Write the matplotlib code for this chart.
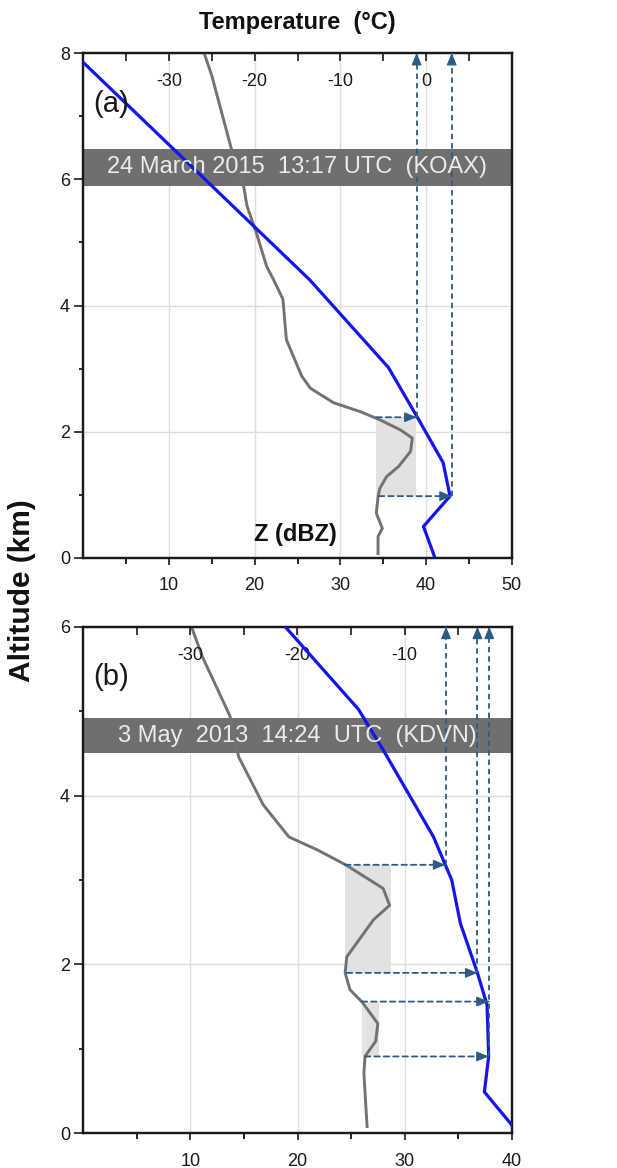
import matplotlib
matplotlib.use('Agg')
import matplotlib.pyplot as plt
from matplotlib import font_manager as fm
from matplotlib.transforms import blended_transform_factory

# ---------------- data ----------------
# Panel (a): 24 March 2015 (KOAX)
a_temp_T = [-40.0, -13.6, -4.4, -1.1, 2.0, 2.8, -0.3, 1.05]
a_temp_h = [7.85, 4.41, 3.02, 2.25, 1.51, 0.98, 0.5, 0.0]
a_z_dbz = [14.1, 15.0, 17.5, 18.7, 19.1, 20.2, 21.4, 22.2, 23.3, 23.7, 24.5, 25.5,
           26.5, 29.2, 32.3, 34.6, 37.0, 38.4, 38.2, 36.8, 35.4, 34.6, 34.4, 34.2,
           34.9, 34.4, 34.4]
a_z_h = [8.0, 7.64, 6.37, 5.9, 5.58, 5.15, 4.62, 4.41, 4.10, 3.46, 3.2, 2.88,
         2.69, 2.46, 2.32, 2.19, 2.03, 1.9, 1.69, 1.45, 1.29, 1.1, 0.97, 0.71,
         0.47, 0.34, 0.07]
a_shade_zlo = [34.2]
a_shade_zhi = [38.8]
a_shade_hlo = [0.98]
a_shade_hhi = [2.23]
a_arrow_h = [2.23, 0.98]
a_arrow_zstart = [34.2, 34.5]
a_arrow_tend = [-1.1, 3.0]
a_vert_t = [-1.1, 3.0]
a_vert_h = [2.23, 0.98]
a_band = (5.9, 6.48)
a_title = "24 March 2015  13:17 UTC  (KOAX)"

# Panel (b): 3 May 2013 (KDVN)
b_temp_T = [-21.15, -14.3, -12.0, -7.3, -6.2, -5.6, -4.8, -3.2, -2.3, -2.15, -2.55, 0.0, 0.3]
b_temp_h = [6.0, 5.02, 4.54, 3.51, 3.18, 3.0, 2.49, 1.9, 1.52, 0.91, 0.49, 0.1, 0.0]
b_z_dbz = [10.1, 11.1, 13.7, 14.5, 16.8, 19.2, 21.8, 24.5, 28.0, 28.6, 27.1, 24.6,
           24.45, 24.9, 26.0, 27.5, 27.3, 26.3, 26.2, 26.4, 26.5]
b_z_h = [6.0, 5.65, 4.94, 4.46, 3.89, 3.51, 3.36, 3.18, 2.90, 2.70, 2.53, 2.09,
         1.90, 1.70, 1.56, 1.30, 1.09, 0.91, 0.71, 0.28, 0.08]
b_shade_zlo = [24.45, 26.0]
b_shade_zhi = [28.7, 27.6]
b_shade_hlo = [1.90, 0.91]
b_shade_hhi = [3.18, 1.56]
b_arrow_h = [3.18, 1.90, 1.56, 0.91]
b_arrow_zstart = [24.45, 24.6, 26.0, 26.3]
b_arrow_tend = [-6.2, -3.2, -2.15, -2.15]
b_vert_t = [-6.13, -3.2, -2.1]
b_vert_h = [3.18, 1.90, 0.91]
b_band = (4.50, 4.92)
b_title = "3 May  2013  14:24  UTC  (KDVN)"

# axis definitions
a_zlim, a_tlim, a_ylim = (0, 50), (-40, 10), (0, 8)
a_zmaj, a_zmin = [10, 20, 30, 40, 50], [5, 15, 25, 35, 45]
a_tmaj, a_tmin = [-30, -20, -10, 0], [-35, -25, -15, -5, 5]
a_ymaj, a_ymin = [0, 2, 4, 6, 8], [1, 3, 5, 7]
b_zlim, b_tlim, b_ylim = (0, 40), (-40, 0), (0, 6)
b_zmaj, b_zmin = [10, 20, 30, 40], [5, 15, 25, 35]
b_tmaj, b_tmin = [-30, -20, -10], [-35, -25, -15, -5]
b_ymaj, b_ymin = [0, 2, 4, 6], [1, 3, 5]

# ---------------- style ----------------
names = {f.name for f in fm.fontManager.ttflist}
base = 'Liberation Sans' if 'Liberation Sans' in names else 'DejaVu Sans'
if 'Liberation Sans Narrow' in names:
    band_family, band_size = ['Liberation Sans Narrow', base], 20
else:
    band_family, band_size = [base], 17
plt.rcParams['font.family'] = [base, 'DejaVu Sans']
plt.rcParams['axes.unicode_minus'] = False

BLUE = '#1414ee'
GRAY = '#727272'
ARROW = '#2d5b86'
BAND = '#6f6f6f'
SPINE = '#1a1a1a'
DASH = (0, (3.0, 2.2))

W, H = 617, 1168
fig = plt.figure(figsize=(W / 100, H / 100), dpi=100)


def rect(l, t, r, b):
    return [l / W, 1 - b / H, (r - l) / W, (b - t) / H]


def panel(r, zlim, tlim, ylim, zmaj, zmin, tmaj, tmin, ymaj, ymin,
          temp_T, temp_h, z_dbz, z_h, shz0, shz1, shh0, shh1,
          ar_h, ar_z, ar_t, v_t, v_h, band, title, letter, zlabel):
    ax = fig.add_axes(r)
    ax.set_xlim(zlim)
    ax.set_ylim(ylim)
    ax.set_xticks(zmaj)
    ax.set_xticks(zmin, minor=True)
    ax.set_yticks(ymaj)
    ax.set_yticks(ymin, minor=True)
    ax.set_axisbelow(True)
    ax.grid(True, which='major', color='#dddddd', lw=1.0)
    for s in ax.spines.values():
        s.set_color(SPINE)
        s.set_linewidth(1.6)
    ax.tick_params(axis='x', which='major', direction='out', length=5, width=1.2,
                   pad=9, labelsize=13, colors=SPINE)
    ax.tick_params(axis='x', which='minor', direction='out', length=4, width=1.2)
    ax.tick_params(axis='y', which='major', direction='out', length=6.5, width=1.2,
                   pad=3, labelsize=13, colors=SPINE)
    ax.tick_params(axis='y', which='minor', direction='out', length=3, width=1.2)

    ax.axhspan(band[0], band[1], color=BAND, lw=0, zorder=1.2)
    for z0, z1, h0, h1 in zip(shz0, shz1, shh0, shh1):
        ax.fill_betweenx([h0, h1], z0, z1, color='#e2e2e2', lw=0, zorder=1.1)
    ax.plot(z_dbz, z_h, color=GRAY, lw=2.1, zorder=3, solid_joinstyle='round')

    ax2 = ax.twiny()
    ax2.set_xlim(tlim)
    ax2.set_ylim(ylim)
    ax2.set_xticks(tmaj)
    ax2.set_xticks(tmin, minor=True)
    ax2.tick_params(axis='x', which='both', direction='in', length=6, width=1.2,
                    pad=-27, labelsize=13, colors=SPINE)
    for s in ax2.spines.values():
        s.set_color(SPINE)
        s.set_linewidth(1.6)
    ax2.plot(temp_T, temp_h, color=BLUE, lw=2.3, zorder=3, solid_joinstyle='round')

    # dashed arrows: horizontal from Z profile to temperature profile
    for h, z0, t1 in zip(ar_h, ar_z, ar_t):
        ax2.annotate('', xy=(t1, h), xycoords='data', xytext=(z0, h),
                     textcoords=ax.transData, annotation_clip=False,
                     arrowprops=dict(arrowstyle='-', linestyle=DASH, lw=1.3,
                                     color=ARROW, shrinkA=0, shrinkB=0))
        ax2.annotate('', xy=(t1, h), xycoords='data', xytext=(-7, 0),
                     textcoords='offset points', annotation_clip=False,
                     arrowprops=dict(arrowstyle='-|>,head_length=0.6,head_width=0.25',
                                     mutation_scale=12, lw=1, color=ARROW,
                                     shrinkA=0, shrinkB=0))
    # vertical arrows up to the temperature axis
    for t, h in zip(v_t, v_h):
        ax2.plot([t, t], [h, ylim[1]], color=ARROW, lw=1.3, linestyle=DASH, zorder=4)
        ax2.annotate('', xy=(t, ylim[1]), xycoords='data', xytext=(0, -7),
                     textcoords='offset points', annotation_clip=False,
                     arrowprops=dict(arrowstyle='-|>,head_length=0.6,head_width=0.25',
                                     mutation_scale=12, lw=1, color=ARROW,
                                     shrinkA=0, shrinkB=0))

    tr = blended_transform_factory(ax2.transAxes, ax2.transData)
    ax2.text(0.5, (band[0] + band[1]) / 2, title,
             transform=tr, ha='center', va='center', color='#ececec',
             fontsize=band_size, family=band_family, zorder=10)
    ax2.text(0.066, 0.90, letter, transform=ax2.transAxes, ha='center', va='center',
             fontsize=21, color='#1a1a1a', zorder=10)
    if zlabel:
        ax2.text(0.494, 0.046, 'Z (dBZ)', transform=ax2.transAxes, ha='center',
                 va='center', fontsize=17, fontweight='bold', color='#111111', zorder=10)
    return ax, ax2


panel(rect(83.3, 53, 511.7, 558), a_zlim, a_tlim, a_ylim, a_zmaj, a_zmin,
      a_tmaj, a_tmin, a_ymaj, a_ymin, a_temp_T, a_temp_h, a_z_dbz, a_z_h,
      a_shade_zlo, a_shade_zhi, a_shade_hlo, a_shade_hhi,
      a_arrow_h, a_arrow_zstart, a_arrow_tend, a_vert_t, a_vert_h,
      a_band, a_title, '(a)', True)
panel(rect(83.3, 626.7, 511.7, 1133.3), b_zlim, b_tlim, b_ylim, b_zmaj, b_zmin,
      b_tmaj, b_tmin, b_ymaj, b_ymin, b_temp_T, b_temp_h, b_z_dbz, b_z_h,
      b_shade_zlo, b_shade_zhi, b_shade_hlo, b_shade_hhi,
      b_arrow_h, b_arrow_zstart, b_arrow_tend, b_vert_t, b_vert_h,
      b_band, b_title, '(b)', False)

fig.text(297.5 / W, 1 - 23 / H, 'Temperature  (°C)', ha='center', va='center',
         fontsize=17, fontweight='bold', color='#111111')
fig.text(22 / W, 1 - 591 / H, 'Altitude (km)', ha='center', va='center',
         rotation=90, fontsize=21.5, fontweight='bold', color='#111111')

fig.savefig('out.png', dpi=100)
